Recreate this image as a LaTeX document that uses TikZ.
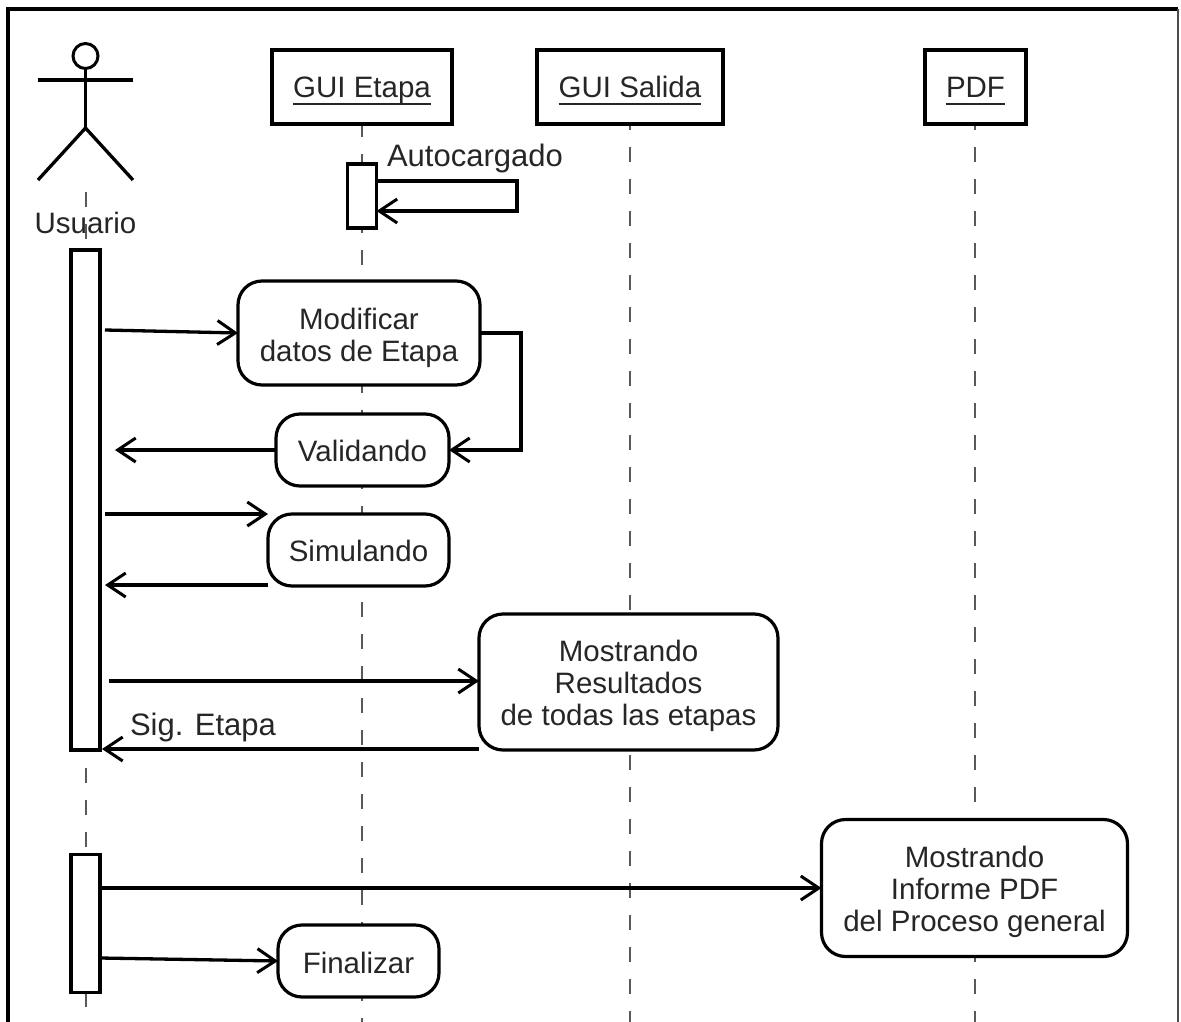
\documentclass[tikz,border=0pt]{standalone}
\usepackage{fontspec}
\setmainfont{Liberation Sans}
\usetikzlibrary{arrows.meta,calc}
\newcommand{\ulbox}[1]{\vtop{\hbox{\smash{#1}}\kern 5pt\hrule height 1.8pt}}
\newcommand{\firstline}[1]{\rule{0pt}{#1pt}}
\tikzset{
  base/.style={inner sep=0pt,outer sep=0pt,font=\fontsize{29.5}{32}\selectfont,text=black!85},
  objbox/.style={base,draw,line width=3.6pt,fill=white,text height=24pt,text depth=2pt},
  actbox/.style={draw,line width=3.2pt,fill=white,inner sep=0pt,outer sep=0pt},
  state/.style={base,draw,line width=3.2pt,fill=white,rounded corners=24pt,align=center},
  life/.style={line width=2pt,black!65,dash pattern=on 15pt off 17pt},
  msg/.style={line width=3.3pt,-{Straight Barb[length=18pt,width=24pt,line width=3pt]}},
  limb/.style={line width=3.3pt},
  lbl/.style={base,font=\fontsize{31}{33}\selectfont,anchor=base west}
}
\begin{document}
\begin{tikzpicture}[x=1pt,y=-1pt]
\useasboundingbox (0,0) rectangle (1181,1022);
\fill[white] (0,0) rectangle (1181,1022);
% frame
\draw[line width=4pt] (8,1022) -- (8,9) -- (1178,9);
\draw[line width=2pt,black!70] (1178,9) -- (1178,1022);
% lifelines
\draw[life] (85.5,192) -- (85.5,1022);
\draw[life] (361.5,122) -- (361.5,1022);
\draw[life] (630,115) -- (630,1022);
\draw[life] (975,115) -- (975,1022);
% actor
\node[draw,circle,line width=3pt,minimum size=25pt,inner sep=0pt,outer sep=0pt] (head) at (85.5,56) {};
\coordinate (armL) at (38,80);
\coordinate (armR) at (133,80);
\coordinate (hip) at (85.5,128);
\coordinate (legL) at (38,180);
\coordinate (legR) at (133,180);
\draw[limb] (head.south) -- (hip);
\draw[limb] (armL) -- (armR);
\draw[limb] (legL) -- (hip) -- (legR);
\node[base,anchor=base] (usr) at (85.5,233) {Usuario};
% objects
\node[objbox,minimum width=180pt,minimum height=74pt] (ge) at (362,87) {\ulbox{GUI Etapa}};
\node[objbox,minimum width=186pt,minimum height=74pt] (gs) at (630,87) {\ulbox{GUI Salida}};
\node[objbox,minimum width=101pt,minimum height=74pt] (pdf) at (975.5,87) {\ulbox{PDF}};
% activations
\node[actbox,minimum width=29pt,minimum height=64pt] (a0) at (362,196) {};
\node[actbox,minimum width=29pt,minimum height=500pt] (a1) at (85.5,500) {};
\node[actbox,minimum width=29pt,minimum height=138pt] (a2) at (85.5,923.5) {};
% states
\node[state,minimum width=242pt,minimum height=104pt] (mod) at (359,333) {\firstline{31}Modificar\\datos de Etapa};
\node[state,minimum width=173pt,minimum height=72pt] (val) at (362.5,450) {\firstline{24}Validando};
\node[state,minimum width=181pt,minimum height=72pt] (sim) at (358.5,550) {\firstline{24}Simulando};
\node[state,minimum width=299pt,minimum height=136pt] (res) at (628.5,682) {\firstline{30}Mostrando\\Resultados\\de todas las etapas};
\node[state,minimum width=306pt,minimum height=137pt] (inf) at (974.5,888) {\firstline{30}Mostrando\\Informe PDF\\del Proceso general};
\node[state,minimum width=161pt,minimum height=72pt] (fin) at (358.5,961) {\firstline{26}Finalizar};
% labels
\node[lbl] (lauto) at (387,167) {Autocargado};
\node[lbl] (lsig) at (130,735) {Sig. Etapa};
% connectors
\coordinate (selfA) at (517,181);
\coordinate (selfB) at (517,211);
\draw[msg] (a0.east |- selfA) -- (selfA) -- (selfB) -- (a0.east |- selfB);
\coordinate (s1) at (105,330);
\draw[msg] (s1) -- (mod.west);
\coordinate (elbow) at (521,450);
\draw[msg] (mod.east) -| (elbow) -- (val.east);
\coordinate (e2) at (115,450);
\draw[msg] (val.west) -- (e2);
\coordinate (s3) at (105,514);
\draw[msg] (s3) -- (sim.west |- s3);
\coordinate (e4) at (105,585);
\draw[msg] (sim.west |- e4) -- (e4);
\coordinate (s5) at (109,681);
\draw[msg] (s5) -- (res.west |- s5);
\coordinate (e6) at (102,749);
\draw[msg] (res.west |- e6) -- (e6);
\draw[msg] (a2.east |- inf.west) -- (inf.west);
\coordinate (s8) at (100,958);
\draw[msg] (s8) -- (fin.west);
\end{tikzpicture}
\end{document}
